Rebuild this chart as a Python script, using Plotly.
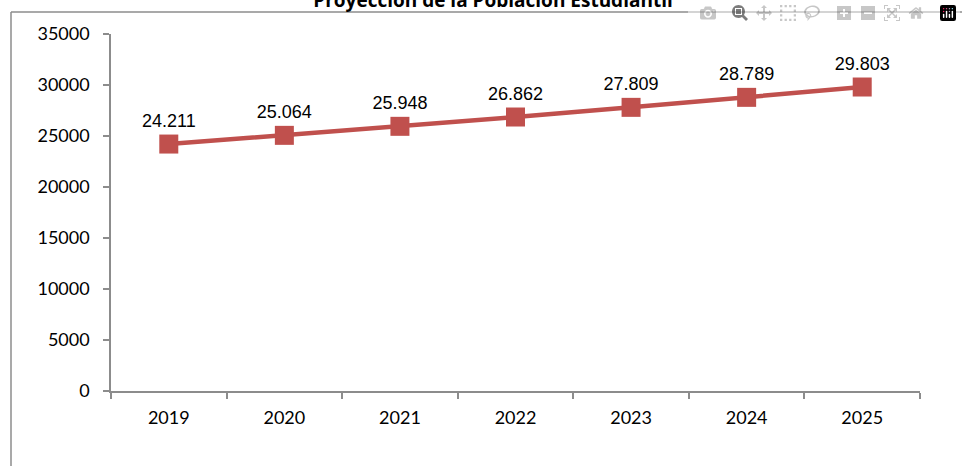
import plotly.graph_objects as go

years = ["2019", "2020", "2021", "2022", "2023", "2024", "2025"]
students = [24211, 25064, 25948, 26862, 27809, 28789, 29803]
labels = ["24.211", "25.064", "25.948", "26.862", "27.809", "28.789", "29.803"]

red = "#C0504D"
gray = "#8C8C8C"

fig = go.Figure()
fig.add_trace(
    go.Scatter(
        x=years,
        y=students,
        mode="lines+markers+text",
        text=labels,
        textposition="top center",
        textfont=dict(family="Liberation Sans, Arial", size=18, color="#000000"),
        line=dict(color=red, width=4.5),
        marker=dict(symbol="square", size=19, color=red),
        cliponaxis=False,
        showlegend=False,
    )
)

# outer frame of the chart (only left and top edges are visible)
fx = (11 - 111) / 809
fy = 1 + (34 - 12) / 357
fig.add_shape(type="line", xref="paper", yref="paper",
              x0=fx, x1=fx, y0=-0.3, y1=fy, line=dict(color=gray, width=1.5))
fig.add_shape(type="line", xref="paper", yref="paper",
              x0=fx, x1=1.2, y0=fy, y1=fy, line=dict(color=gray, width=1.5))

fig.update_layout(
    width=962,
    height=466,
    margin=dict(l=111, r=42, t=34, b=75),
    paper_bgcolor="white",
    plot_bgcolor="white",
    title=dict(
        text="<b>Proyección de la Población Estudiantil</b>",
        font=dict(family="Open Sans", size=19, color="#000000"),
        xref="container", x=0.5125, xanchor="center",
        yref="container", y=1.0, yanchor="middle",
    ),
    font=dict(family="Lato", size=18, color="#000000"),
)
fig.update_xaxes(
    type="category",
    range=[-0.5, 6.5],
    tickson="boundaries",
    ticks="outside",
    ticklen=6,
    tickcolor=gray,
    tickwidth=1.5,
    ticklabelstandoff=10,
    showline=True,
    linecolor=gray,
    linewidth=1.5,
    showgrid=False,
    tickfont=dict(family="Lato", size=18),
)
fig.update_yaxes(
    range=[0, 35000],
    dtick=5000,
    ticks="outside",
    ticklen=6,
    tickcolor=gray,
    tickwidth=1.5,
    ticklabelstandoff=10,
    showline=True,
    linecolor=gray,
    linewidth=1.5,
    showgrid=False,
    zeroline=False,
    tickformat="d",
    tickfont=dict(family="Lato", size=18),
)

fig.write_html("out.html", post_script="document.body.style.margin='0';")
